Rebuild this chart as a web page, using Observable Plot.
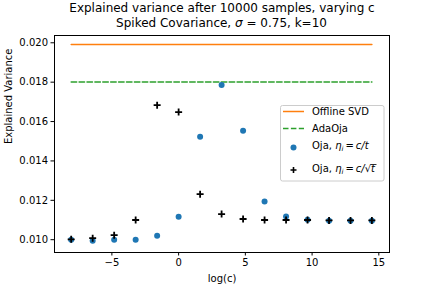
<!DOCTYPE html>
<html>
<head>
<meta charset="utf-8">
<script src="https://cdn.jsdelivr.net/npm/d3@7"></script>
<script src="https://cdn.jsdelivr.net/npm/@observablehq/plot@0.6"></script>
<style>
  body { margin: 0; background: white; }
  #chart { position: relative; width: 432px; height: 288px; }
</style>
</head>
<body>
<div id="chart"></div>
<script>
// log(c) values (c = 5^k, k = -5..9)
const logC = [-8.05, -6.44, -4.83, -3.22, -1.61, 0, 1.61, 3.22, 4.83, 6.44, 8.05, 9.66, 11.27, 12.88, 14.48];
// Oja, eta = c/t
const ojaT = [0.01000, 0.00995, 0.01000, 0.01000, 0.01020, 0.01117, 0.01523, 0.01785, 0.01553, 0.01194, 0.01118, 0.01101, 0.01096, 0.01096, 0.01096];
// Oja, eta = c/sqrt(t)
const ojaSqrt = [0.01002, 0.01008, 0.01023, 0.01100, 0.01683, 0.01648, 0.01231, 0.01130, 0.01105, 0.01100, 0.01100, 0.01100, 0.01098, 0.01098, 0.01098];
// constant baselines
const offlineSVD = 0.01991;
const adaOja = 0.01801;
const xTicks = [-5, 0, 5, 10, 15];
const yTicks = [0.010, 0.012, 0.014, 0.016, 0.018, 0.020];

const titleLines = ["Explained variance after 10000 samples, varying c"];
const xLabel = "log(c)";
const yLabel = "Explained Variance";

const ptsT = logC.map((x, i) => ({x, y: ojaT[i]}));
const ptsS = logC.map((x, i) => ({x, y: ojaSqrt[i]}));
const xRange = [logC[0], logC[logC.length - 1]];
const svdLine = xRange.map(x => ({x, y: offlineSVD}));
const adaLine = xRange.map(x => ({x, y: adaOja}));

const plusSymbol = {
  draw(context, size) {
    const h = Math.sqrt(size / Math.PI);
    context.moveTo(-h, 0); context.lineTo(h, 0);
    context.moveTo(0, -h); context.lineTo(0, h);
  }
};

const font = "DejaVu Sans, sans-serif";

const plot = Plot.plot({
  width: 432,
  height: 288,
  marginLeft: 54,
  marginRight: 43,
  marginTop: 35,
  marginBottom: 36,
  style: {fontFamily: font, fontSize: "10px", color: "black", background: "white"},
  x: {domain: [-9.3, 15.8], ticks: xTicks, tickSize: 3.5, tickPadding: 3, label: null},
  y: {domain: [0.00935, 0.02037], ticks: yTicks, tickFormat: ".3f", tickSize: 3.5, tickPadding: 3, label: null},
  marks: [
    Plot.line(svdLine, {x: "x", y: "y", stroke: "#ff7f0e", strokeWidth: 1.5}),
    Plot.line(adaLine, {x: "x", y: "y", stroke: "#2ca02c", strokeWidth: 1.5, strokeDasharray: "5.5,2.4"}),
    Plot.dot(ptsT, {x: "x", y: "y", r: 3, fill: "#1f77b4", stroke: "none"}),
    Plot.dot(ptsS, {x: "x", y: "y", r: 3.5, symbol: plusSymbol, stroke: "black", strokeWidth: 1.8, fill: "none"}),
    Plot.frame({stroke: "black", strokeWidth: 1}),
    Plot.text(titleLines, {frameAnchor: "top", lineAnchor: "middle", dy: -27, fontSize: 12, fill: "black"}),
    Plot.text([xLabel], {frameAnchor: "bottom", lineAnchor: "middle", dy: 26, fontSize: 10, fill: "black"}),
    Plot.text([yLabel], {frameAnchor: "left", lineAnchor: "middle", dx: -46, rotate: -90, fontSize: 10, fill: "black"})
  ]
});
document.getElementById("chart").appendChild(plot);

const svg = d3.select(plot);

// subtitle with math
const sub = svg.append("text")
  .attr("x", 221.5).attr("y", 23).attr("text-anchor", "middle")
  .attr("dominant-baseline", "middle")
  .attr("font-family", font).attr("font-size", 12).attr("fill", "black");
sub.append("tspan").text("Spiked Covariance, ");
sub.append("tspan").attr("font-style", "italic").text("σ");
sub.append("tspan").text(" = 0.75, k=10");

// legend
const lg = svg.append("g").attr("font-family", font).attr("font-size", 10).attr("text-anchor", "start");
lg.append("rect").attr("x", 280.5).attr("y", 105.5).attr("width", 103.5).attr("height", 75.5)
  .attr("rx", 2).attr("fill", "white").attr("fill-opacity", 0.8).attr("stroke", "#cccccc").attr("stroke-width", 1);
lg.append("line").attr("x1", 283).attr("x2", 304).attr("y1", 111.5).attr("y2", 111.5)
  .attr("stroke", "#ff7f0e").attr("stroke-width", 1.5);
lg.append("line").attr("x1", 283).attr("x2", 304).attr("y1", 128.5).attr("y2", 128.5)
  .attr("stroke", "#2ca02c").attr("stroke-width", 1.5).attr("stroke-dasharray", "5.5,2.4");
lg.append("circle").attr("cx", 293.5).attr("cy", 147.5).attr("r", 3).attr("fill", "#1f77b4");
lg.append("path").attr("d", "M290.5,170H296.5M293.5,167V173").attr("stroke", "black").attr("stroke-width", 1.6);

function label(y) {
  return lg.append("text").attr("x", 312).attr("y", y).attr("text-anchor", "start")
    .attr("dominant-baseline", "middle").attr("fill", "black");
}
label(111.5).text("Offline SVD");
label(128.5).text("AdaOja");
const t1 = label(146);
t1.append("tspan").text("Oja, ");
t1.append("tspan").attr("font-style", "italic").text("η");
t1.append("tspan").attr("font-style", "italic").attr("font-size", 7).attr("dy", 2.5).text("i");
t1.append("tspan").attr("dy", -2.5).text("\u2009=\u2009");
t1.append("tspan").attr("font-style", "italic").text("c/t");
const t2 = label(169);
t2.append("tspan").text("Oja, ");
t2.append("tspan").attr("font-style", "italic").text("η");
t2.append("tspan").attr("font-style", "italic").attr("font-size", 7).attr("dy", 2.5).text("i");
t2.append("tspan").attr("dy", -2.5).text("\u2009=\u2009");
t2.append("tspan").attr("font-style", "italic").text("c/");
t2.append("tspan").text("√");
t2.append("tspan").attr("font-style", "italic").text("t");
try {
  const node = t2.node();
  const n = node.getNumberOfChars();
  const sq = node.getExtentOfChar(n - 2);
  const tc = node.getExtentOfChar(n - 1);
  lg.append("line").attr("x1", sq.x + sq.width - 0.5).attr("x2", tc.x + tc.width + 1.5)
    .attr("y1", sq.y + 1.5).attr("y2", sq.y + 1.5).attr("stroke", "black").attr("stroke-width", 0.8);
} catch (e) {}
</script>
</body>
</html>
